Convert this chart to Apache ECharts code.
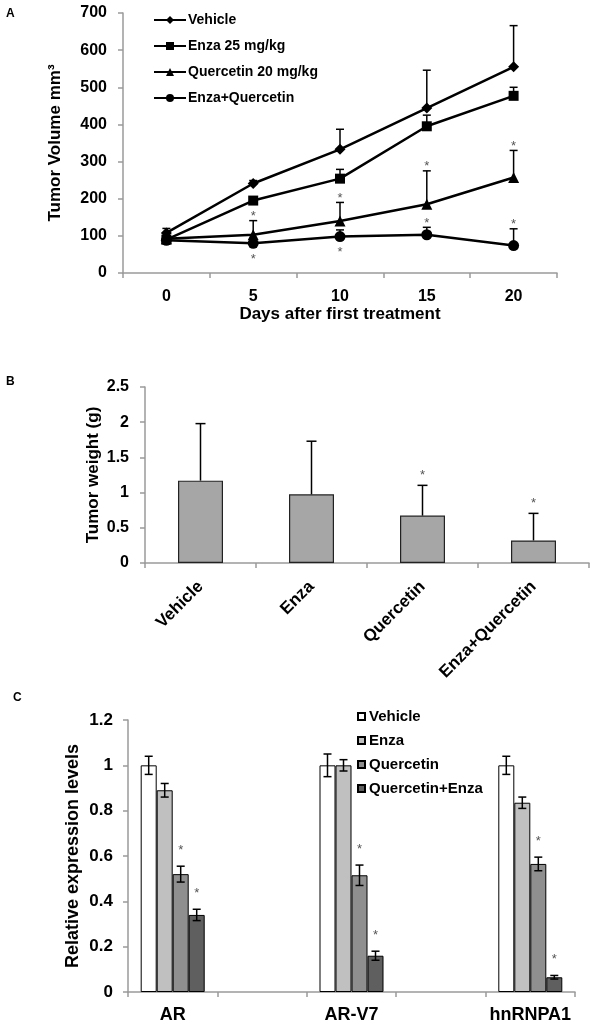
<!DOCTYPE html>
<html><head><meta charset="utf-8">
<script src="https://cdn.jsdelivr.net/npm/echarts@6/dist/echarts.min.js"></script>
<style>html,body{margin:0;padding:0;background:#fff}#c{width:594px;height:1025px}</style>
</head><body><div id="c"></div>
<script>
// ---------- Panel A data ----------
const daysA = ['0', '5', '10', '15', '20'];
const volTicksA = [0, 700, 100];
const vehicleA = [108, 241, 333, 444, 555];
const vehicleErrA = [12, 8, 54, 102, 111];
const enzaA = [90, 195, 254, 395, 477];
const enzaErrA = [8, 5, 25, 30, 23];
const quercetinA = [92, 103, 140, 185, 257];
const quercetinErrA = [8, 38, 50, 90, 73];
const comboA = [88, 80, 98, 103, 74];
const comboErrA = [5, 5, 18, 20, 45];
const quercetinStarA = ['', 'up', 'up', 'up', 'up'];
const comboStarA = ['', 'down', 'down', 'up', 'up'];
const namesA = ['Vehicle', 'Enza 25 mg/kg', 'Quercetin 20 mg/kg', 'Enza+Quercetin'];

// ---------- Panel B data ----------
const groupsB = ['Vehicle', 'Enza', 'Quercetin', 'Enza+Quercetin'];
const weightB = [1.17, 0.975, 0.673, 0.32];
const weightErrB = [0.81, 0.755, 0.43, 0.385];
const starB = [false, false, true, true];

// ---------- Panel C data ----------
const genesC = ['AR', '', 'AR-V7', '', 'hnRNPA1'];
const namesC = ['Vehicle', 'Enza', 'Quercetin', 'Quercetin+Enza'];
const vehicleC = [1.0, null, 1.0, null, 1.0];
const vehicleErrC = [0.04, null, 0.05, null, 0.04];
const enzaC = [0.89, null, 1.0, null, 0.835];
const enzaErrC = [0.03, null, 0.025, null, 0.025];
const quercetinC = [0.52, null, 0.515, null, 0.565];
const quercetinErrC = [0.035, null, 0.045, null, 0.03];
const comboC = [0.34, null, 0.16, null, 0.065];
const comboErrC = [0.025, null, 0.02, null, 0.008];
const starC = [false, false, true, true];

const FONT = '"Liberation Sans", Arial, sans-serif';
const AXIS_GREY = '#9a9a9a';
const C_SUFFIX = ' [C]';

function errData(vals, errs) {
  const out = [];
  vals.forEach((v, i) => { if (v != null) out.push([i, v, errs[i]]); });
  return out;
}
function errRender(offsetPx, both, capHalf) {
  return function (params, api) {
    const x = api.value(0), y = api.value(1), e = api.value(2);
    const pLow = api.coord([x, both ? y - e : y]);
    const pHigh = api.coord([x, y + e]);
    const cx = pLow[0] + offsetPx;
    const st = { stroke: '#000', lineWidth: 1.5 };
    const ch = [
      { type: 'line', shape: { x1: cx, y1: pLow[1], x2: cx, y2: pHigh[1] }, style: st },
      { type: 'line', shape: { x1: cx - capHalf, y1: pHigh[1], x2: cx + capHalf, y2: pHigh[1] }, style: st }
    ];
    if (both) ch.push({ type: 'line', shape: { x1: cx - capHalf, y1: pLow[1], x2: cx + capHalf, y2: pLow[1] }, style: st });
    return { type: 'group', children: ch };
  };
}
function starData(vals, errs, flags) {
  const out = [];
  vals.forEach((v, i) => {
    const f = flags[i];
    if (v == null || !f) return;
    out.push([i, v, errs[i], f === 'down' ? -1 : 1]);
  });
  return out;
}
function starRender(offsetPx, gapUp, gapDown) {
  return function (params, api) {
    const x = api.value(0), y = api.value(1), e = api.value(2), d = api.value(3);
    let px, py;
    if (d > 0) { const p = api.coord([x, y + e]); px = p[0]; py = p[1] - gapUp; }
    else { const p = api.coord([x, y]); px = p[0]; py = p[1] + gapDown; }
    return {
      type: 'text', x: px + offsetPx, y: py,
      style: { text: '*', fill: '#555', fontSize: 13, fontFamily: FONT, align: 'center', verticalAlign: 'middle' }
    };
  };
}

const axisLine = { show: true, lineStyle: { color: AXIS_GREY, width: 1.5 } };
const axisTick = { show: true, length: 5, lineStyle: { color: AXIS_GREY, width: 1.5 } };
const boldLabel = (size, margin) => ({ color: '#000', fontWeight: 'bold', fontSize: size, fontFamily: FONT, margin: margin });

const lineColor = '#000';
const markers = ['diamond', 'rect', 'triangle', 'circle'];
const markerSize = [11, 10, 11, 11];
const seriesA = [vehicleA, enzaA, quercetinA, comboA];
const errsA = [vehicleErrA, enzaErrA, quercetinErrA, comboErrA];

const series = [];
seriesA.forEach((vals, k) => {
  series.push({
    type: 'custom', xAxisIndex: 0, yAxisIndex: 0, z: 1, silent: true,
    renderItem: errRender(0, false, 4), data: errData(vals, errsA[k])
  });
});
seriesA.forEach((vals, k) => {
  series.push({
    type: 'line', name: namesA[k], xAxisIndex: 0, yAxisIndex: 0, z: 3,
    data: vals, symbol: markers[k], symbolSize: markerSize[k], showSymbol: true,
    lineStyle: { color: lineColor, width: 2.5 }, itemStyle: { color: lineColor, borderWidth: 0 },
    emphasis: { disabled: true }, animation: false
  });
});
series.push({ type: 'custom', xAxisIndex: 0, yAxisIndex: 0, z: 4, silent: true,
  renderItem: starRender(0, 4, 16), data: starData(quercetinA, quercetinErrA, quercetinStarA) });
series.push({ type: 'custom', xAxisIndex: 0, yAxisIndex: 0, z: 4, silent: true,
  renderItem: starRender(0, 4, 16), data: starData(comboA, comboErrA, comboStarA) });

// Panel B
series.push({
  type: 'bar', xAxisIndex: 1, yAxisIndex: 1, data: weightB, barWidth: 45,
  itemStyle: { color: '#a6a6a6', borderColor: '#222', borderWidth: 1.2 }, emphasis: { disabled: true }, z: 2
});
series.push({ type: 'custom', xAxisIndex: 1, yAxisIndex: 1, z: 3, silent: true,
  renderItem: errRender(0, false, 5), data: errData(weightB, weightErrB) });
series.push({ type: 'custom', xAxisIndex: 1, yAxisIndex: 1, z: 4, silent: true,
  renderItem: starRender(0, 10, 0),
  data: starData(weightB, weightErrB, starB.map(s => s ? 'up' : '')) });

// Panel C
const seriesC = [vehicleC, enzaC, quercetinC, comboC];
const errsC = [vehicleErrC, enzaErrC, quercetinErrC, comboErrC];
const colorsC = ['#ffffff', '#c0c0c0', '#8f8f8f', '#5f5f5f'];
const BW = 16;
seriesC.forEach((vals, k) => {
  series.push({
    type: 'bar', name: namesC[k] + C_SUFFIX, xAxisIndex: 2, yAxisIndex: 2, data: vals, barWidth: BW, barGap: '0%',
    itemStyle: { color: colorsC[k], borderColor: '#000', borderWidth: 1 }, emphasis: { disabled: true }, z: 2
  });
});
seriesC.forEach((vals, k) => {
  const off = (k - 1.5) * BW;
  series.push({ type: 'custom', xAxisIndex: 2, yAxisIndex: 2, z: 3, silent: true,
    renderItem: errRender(off, true, 4), data: errData(vals, errsC[k]) });
  if (starC[k]) {
    series.push({ type: 'custom', xAxisIndex: 2, yAxisIndex: 2, z: 4, silent: true,
      renderItem: starRender(off, 16, 0),
      data: starData(vals, errsC[k], vals.map(v => v == null ? '' : 'up')) });
  }
});

const nameStyle = (size) => ({ color: '#000', fontWeight: 'bold', fontSize: size, fontFamily: FONT });

const option = {
  animation: false,
  backgroundColor: '#fff',
  textStyle: { fontFamily: FONT },
  grid: [
    { left: 123, top: 13, width: 434, height: 260, containLabel: false, outerBoundsMode: 'none' },
    { left: 145, top: 387, width: 444, height: 176, containLabel: false, outerBoundsMode: 'none' },
    { left: 128, top: 720, width: 447, height: 272, containLabel: false, outerBoundsMode: 'none' }
  ],
  xAxis: [
    { type: 'category', gridIndex: 0, data: daysA, boundaryGap: true,
      axisLine, axisTick: Object.assign({ interval: 0 }, axisTick), axisLabel: boldLabel(16, 16),
      name: 'Days after first treatment', nameLocation: 'middle', nameGap: 32, nameTextStyle: nameStyle(17) },
    { type: 'category', gridIndex: 1, data: groupsB, boundaryGap: true,
      axisLine, axisTick: Object.assign({ interval: 0 }, axisTick),
      axisLabel: Object.assign({ rotate: 45, interval: 0 }, boldLabel(17, 21)) },
    { type: 'category', gridIndex: 2, data: genesC, boundaryGap: true,
      axisLine, axisTick: Object.assign({ interval: 0 }, axisTick),
      axisLabel: Object.assign({ interval: 0 }, boldLabel(18, 14)) }
  ],
  yAxis: [
    { type: 'value', gridIndex: 0, min: volTicksA[0], max: volTicksA[1], interval: volTicksA[2],
      axisLine, axisTick, splitLine: { show: false }, axisLabel: boldLabel(16, 16),
      name: 'Tumor Volume mm³', nameLocation: 'middle', nameGap: 59, nameMoveOverlap: false, nameTextStyle: nameStyle(17) },
    { type: 'value', gridIndex: 1, min: 0, max: 2.5, interval: 0.5,
      axisLine, axisTick, splitLine: { show: false }, axisLabel: boldLabel(16, 16),
      name: 'Tumor weight (g)', nameLocation: 'middle', nameGap: 43, nameMoveOverlap: false, nameTextStyle: nameStyle(17) },
    { type: 'value', gridIndex: 2, min: 0, max: 1.2, interval: 0.2,
      axisLine, axisTick, splitLine: { show: false }, axisLabel: boldLabel(17, 15),
      name: 'Relative expression levels', nameLocation: 'middle', nameGap: 46, nameMoveOverlap: false, nameTextStyle: nameStyle(18) }
  ],
  legend: [
    { data: namesA, orient: 'vertical', left: 148, top: 8, itemGap: 12, itemWidth: 32, itemHeight: 10,
      selectedMode: false, textStyle: { color: '#000', fontWeight: 'bold', fontSize: 14, fontFamily: FONT, padding: [0, 0, 0, -3] } },
    { data: namesC.map(n => n + C_SUFFIX), formatter: n => n.replace(C_SUFFIX, ''),
      orient: 'vertical', left: 357, top: 709, padding: 0, itemGap: 9, itemWidth: 7, itemHeight: 7, icon: 'rect',
      selectedMode: false, textStyle: { color: '#000', fontWeight: 'bold', fontSize: 15, fontFamily: FONT, padding: [0, 0, 0, -1] } }
  ],
  graphic: [
    { type: 'text', left: 6, top: 8, style: { text: 'A', fontWeight: 'bold', fontSize: 12, fontFamily: FONT, fill: '#000' } },
    { type: 'text', left: 6, top: 376, style: { text: 'B', fontWeight: 'bold', fontSize: 12, fontFamily: FONT, fill: '#000' } },
    { type: 'text', left: 13, top: 692, style: { text: 'C', fontWeight: 'bold', fontSize: 12, fontFamily: FONT, fill: '#000' } }
  ],
  series
};
const chart = echarts.init(document.getElementById('c'), null, { renderer: 'canvas' });
chart.setOption(option);
</script></body></html>
